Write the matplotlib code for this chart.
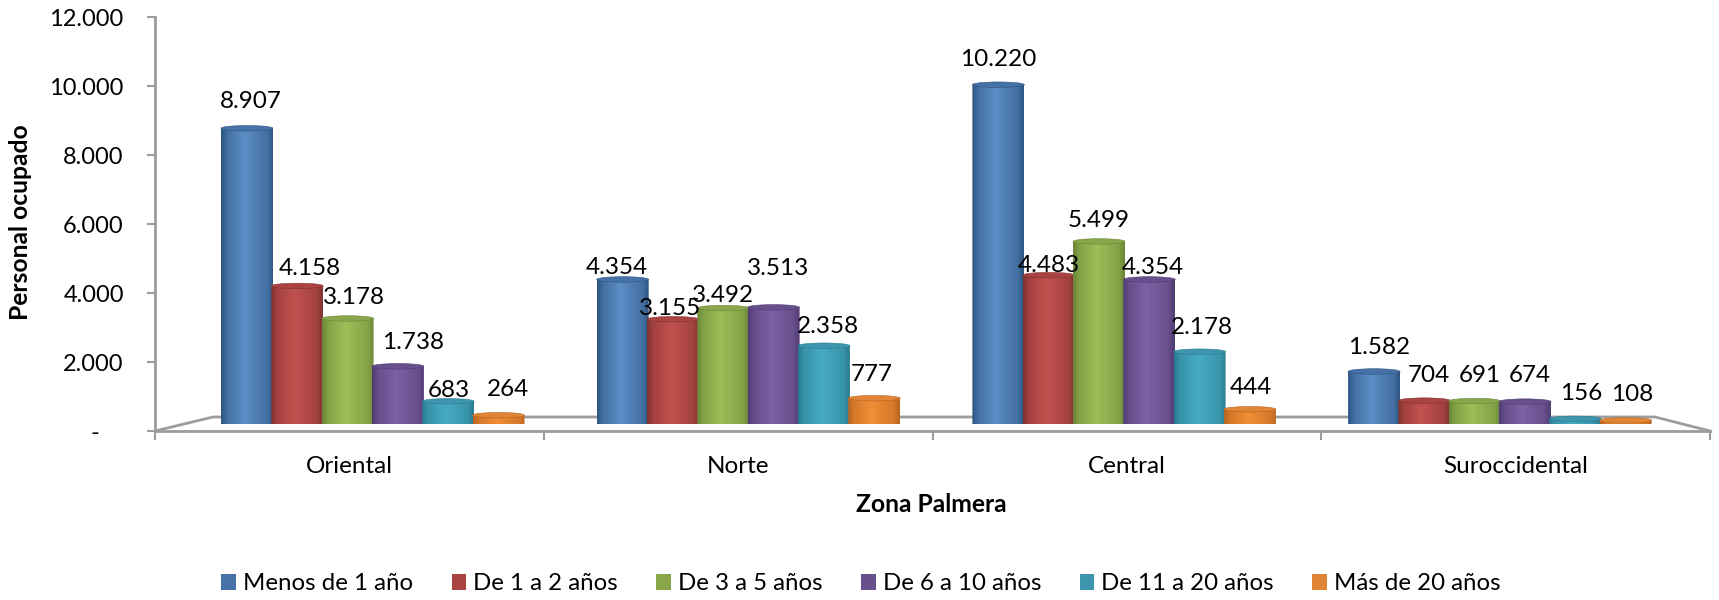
import numpy as np
import matplotlib
matplotlib.use('Agg')
import matplotlib.pyplot as plt
from matplotlib.colors import LinearSegmentedColormap
from matplotlib.patches import Ellipse, Polygon, Patch

zonas = ['Oriental', 'Norte', 'Central', 'Suroccidental']
series = ['Menos de 1 año', 'De 1 a 2 años', 'De 3 a 5 años',
          'De 6 a 10 años', 'De 11 a 20 años', 'Más de 20 años']

menos_1 = [8907, 4354, 10220, 1582]
de_1_2 = [4158, 3155, 4483, 704]
de_3_5 = [3178, 3492, 5499, 691]
de_6_10 = [1738, 3513, 4354, 674]
de_11_20 = [683, 2358, 2178, 156]
mas_20 = [264, 777, 444, 108]
valores = [menos_1, de_1_2, de_3_5, de_6_10, de_11_20, mas_20]

y_ticks = [0, 2000, 4000, 6000, 8000, 10000, 12000]
y_labels = ['-    ', '2.000', '4.000', '6.000', '8.000', '10.000', '12.000']

# dark edge, light centre, flat colour for cap and legend
colores = [('#2c5480', '#5c8dc6', '#4672a8'),
           ('#823230', '#c2524f', '#a94442'),
           ('#6a8535', '#9cbf58', '#8aa64a'),
           ('#513c73', '#7f61a6', '#67508c'),
           ('#2a7a90', '#47abc6', '#3d96ae'),
           ('#b8641f', '#f28e36', '#e08535')]

# label nudges in pixels (right, up) from the top of each bar, per series then zone
offsets = [[(4, 27), (-6, 12), (0, 25), (5, 24)],
           [(12, 17), (-3, 11), (0, 10), (4, 25)],
           [(6, 21), (0, 13), (0, 21), (5, 26)],
           [(15, 24), (4, 39), (4, 12), (5, 26)],
           [(1, 11), (4, 19), (2, 24), (6, 25)],
           [(9, 26), (-2, 24), (1, 22), (7, 26)]]

plt.rcParams['font.family'] = ['Lato', 'DejaVu Sans']
W, H = 1719, 600
GRIS = '#9c9c9c'
FS = 17.5

fig = plt.figure(figsize=(W / 100, H / 100), dpi=100)

# axes with the ticks (front plane)
left, right, top, front = 155, 1710, 17, 431
ax = fig.add_axes([left / W, 1 - front / H, (right - left) / W, (front - top) / H])
ax.set_xlim(0, 4)
ax.set_ylim(0, 12000)
ax.set_yticks(y_ticks)
ax.set_yticklabels(y_labels, fontsize=17)
ax.set_xticks(range(5))
ax.set_xticklabels([])
ax.set_xticks(np.arange(4) + 0.5, minor=True)
ax.set_xticklabels(zonas, minor=True, fontsize=FS)
ax.tick_params(axis='x', which='minor', length=0, pad=18)
ax.tick_params(axis='x', which='major', length=6.5, width=1.5, color=GRIS)
ax.tick_params(axis='y', length=6, width=1.5, color=GRIS, pad=16.5)
for s in ['top', 'right']:
    ax.spines[s].set_visible(False)
for s in ['left', 'bottom']:
    ax.spines[s].set_color(GRIS)
    ax.spines[s].set_linewidth(2)

# floor outline
back = 417
xs = np.array([left, 213, 1655, right])
ys = np.array([front, back, back, front])
ax.plot((xs - left) / (right - left) * 4, (front - ys) / (front - top) * 12000,
        color=GRIS, lw=2, clip_on=False, zorder=1)

# bars sit on the back plane, slightly smaller scale
base = 424
px_val = 0.0332
paso_grupo = 375.7
centro = 372.75
paso = 50.3 / paso_grupo
ancho = 52.0 / paso_grupo
alto_tapa = 5.5 / px_val

bx = fig.add_axes([left / W, 1 - base / H, (right - left) / W, (base - top) / H])
bx.patch.set_alpha(0)
bx.axis('off')
x_lim = ((left - centro) / paso_grupo, (right - centro) / paso_grupo)
y_lim = (0, (base - top) / px_val)

t = np.linspace(0, 1, 128)
perfil = np.interp(t, [0, 0.12, 0.45, 0.88, 1], [0, 0.5, 1, 0.5, 0])[None, :]
ang = np.linspace(np.pi, 2 * np.pi, 40)

for i, vals in enumerate(valores):
    oscuro, claro, plano = colores[i]
    cmap = LinearSegmentedColormap.from_list('c', [oscuro, claro])
    for j, v in enumerate(vals):
        xc = j + (i - 2.5) * paso
        x0, x1 = xc - ancho / 2, xc + ancho / 2
        arc_x = xc + np.cos(ang) * ancho / 2
        arc_y = np.sin(ang) * alto_tapa / 2
        sil = np.column_stack([np.r_[x0, arc_x, x1], np.r_[v, arc_y, v]])
        clip = Polygon(sil, closed=True, transform=bx.transData, fc='none', ec='none')
        bx.add_patch(clip)
        im = bx.imshow(perfil, cmap=cmap, aspect='auto', extent=(x0, x1, -alto_tapa, v),
                       zorder=2 + i, interpolation='bilinear')
        im.set_clip_path(clip)
        bx.add_patch(Ellipse((xc, v), ancho, alto_tapa, fc=plano, ec=oscuro, lw=0.4, zorder=2 + i))
        etiqueta = f'{v:,}'.replace(',', '.')
        bx.annotate(etiqueta, (xc, v), xytext=(offsets[i][j][0] * 0.72, offsets[i][j][1] * 0.72),
                    textcoords='offset points', ha='center', va='center',
                    fontsize=FS, color='black', zorder=20)

bx.set_xlim(x_lim)
bx.set_ylim(y_lim)

fig.text(21 / W, 1 - 222 / H, 'Personal ocupado', rotation=90, ha='center', va='center',
         fontsize=17.7, fontweight='bold')
fig.text(931 / W, 1 - 505 / H, 'Zona Palmera', ha='center', va='center',
         fontsize=17.7, fontweight='bold')

handles = [Patch(fc=c[2], ec='none') for c in colores]
fig.legend(handles, series, loc='center', bbox_to_anchor=(861 / W, 1 - 584 / H), ncol=6,
           frameon=False, fontsize=17.3, handlelength=0.6, handleheight=0.6,
           handletextpad=0.3, columnspacing=1.6, borderpad=0)

fig.savefig('out.png', dpi=100)
